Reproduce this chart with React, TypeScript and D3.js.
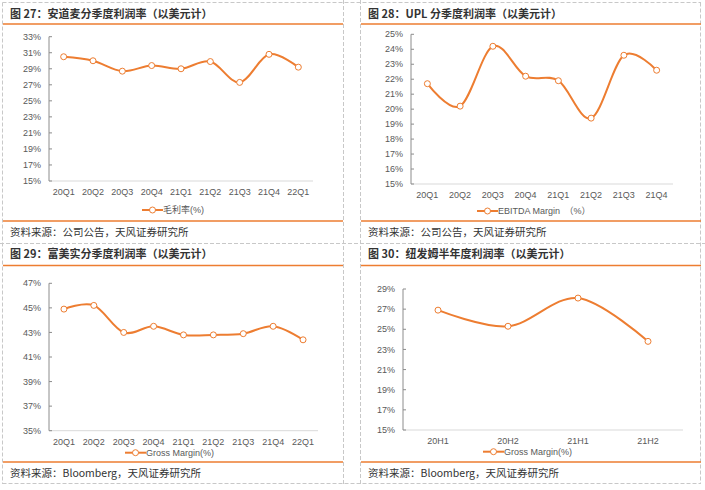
import React from 'react';
import * as d3 from 'd3';

const cats1 = ['20Q1', '20Q2', '20Q3', '20Q4', '21Q1', '21Q2', '21Q3', '21Q4', '22Q1'];
const vals1 = [30.5, 30.0, 28.7, 29.4, 29.0, 29.9, 27.3, 30.8, 29.2];
const ticks1 = [15, 17, 19, 21, 23, 25, 27, 29, 31, 33];

const cats2 = ['20Q1', '20Q2', '20Q3', '20Q4', '21Q1', '21Q2', '21Q3', '21Q4'];
const vals2 = [21.7, 20.2, 24.2, 22.2, 21.9, 19.4, 23.6, 22.6];
const ticks2 = [15, 16, 17, 18, 19, 20, 21, 22, 23, 24, 25];

const cats3 = ['20Q1', '20Q2', '20Q3', '20Q4', '21Q1', '21Q2', '21Q3', '21Q4', '22Q1'];
const vals3 = [44.9, 45.2, 43.0, 43.5, 42.8, 42.8, 42.9, 43.5, 42.4];
const ticks3 = [35, 37, 39, 41, 43, 45, 47];

const cats4 = ['20H1', '20H2', '21H1', '21H2'];
const vals4 = [26.9, 25.3, 28.1, 23.8];
const ticks4 = [15, 17, 19, 21, 23, 25, 27, 29];

const ORANGE = '#ED7D31';
const FONT = '"Liberation Sans", Arial, "Noto Sans CJK SC", sans-serif';
const CJK = '"Noto Sans CJK SC", "Liberation Sans", sans-serif';

type ChartProps = {
  cats: string[];
  vals: number[];
  ticks: number[];
  left: number; right: number; top: number; bottom: number;
  legend: string; legendX: number; legendY: number;
};

function Chart(p: ChartProps) {
  const x = d3.scaleBand<string>().domain(p.cats).range([p.left, p.right]);
  const y = d3.scaleLinear().domain([p.ticks[0], p.ticks[p.ticks.length - 1]]).range([p.bottom, p.top]);
  const pts: [number, number][] = p.cats.map((c, i) => [x(c)! + x.bandwidth() / 2, y(p.vals[i])]);
  const line = d3.line().curve(d3.curveCardinal.tension(0))(pts) || '';
  return (
    <g>
      <line x1={p.left} x2={p.right} y1={p.bottom} y2={p.bottom} stroke="#d9d9d9" strokeWidth={1} />
      <line x1={p.left} x2={p.left} y1={p.top} y2={p.bottom} stroke="#8c8c8c" strokeWidth={1} />
      {p.ticks.map(t => (
        <g key={t}>
          <line x1={p.left} x2={p.left + 3} y1={y(t)} y2={y(t)} stroke="#8c8c8c" />
          <text x={p.left - 8} y={y(t)} dy="0.35em" textAnchor="end" fontSize={9} fill="#595959" fontFamily={FONT}>{t}%</text>
        </g>
      ))}
      {p.cats.map(c => (
        <text key={c} x={x(c)! + x.bandwidth() / 2} y={p.bottom + 11} dy="0.35em" textAnchor="middle" fontSize={9} fill="#595959" fontFamily={FONT}>{c}</text>
      ))}
      <path d={line} fill="none" stroke={ORANGE} strokeWidth={2} />
      {pts.map((pt, i) => (
        <circle key={i} cx={pt[0]} cy={pt[1]} r={3} fill="#fff" stroke={ORANGE} strokeWidth={1} />
      ))}
      <g>
        <line x1={p.legendX} x2={p.legendX + 21} y1={p.legendY} y2={p.legendY} stroke={ORANGE} strokeWidth={2} />
        <circle cx={p.legendX + 10.5} cy={p.legendY} r={3} fill="#fff" stroke={ORANGE} strokeWidth={1} />
        <text x={p.legendX + 21} y={p.legendY} dy="0.35em" fontSize={9} fill="#595959" fontFamily={FONT}>{p.legend}</text>
      </g>
    </g>
  );
}

function Frame(props: { x1: number; x2: number; titleY: number; ruleTop: number; ruleBottom: number; sourceY: number; title: string; source: string }) {
  const { x1, x2 } = props;
  return (
    <g>
      <text x={x1 + 7} y={props.titleY} fontSize={11} fontWeight="bold" fill="#333" fontFamily={CJK}>{props.title}</text>
      <line x1={x1} x2={x2} y1={props.ruleTop} y2={props.ruleTop} stroke={ORANGE} strokeWidth={1.3} />
      <line x1={x1} x2={x2} y1={props.ruleBottom} y2={props.ruleBottom} stroke={ORANGE} strokeWidth={1.3} />
      <text x={x1 + 7} y={props.sourceY} fontSize={10.5} fill="#333" fontFamily={CJK}>{props.source}</text>
    </g>
  );
}

export default function App() {
  const dash = { stroke: '#c8c8c8', strokeWidth: 1, strokeDasharray: '4 2' };
  return (
    <svg width={705} height={490} style={{ position: 'absolute', left: 0, top: 0, background: '#fff' }}>
      <rect x={0} y={0} width={705} height={490} fill="#fff" />
      {/* dashed table grid */}
      <line x1={2.5} x2={701} y1={2.5} y2={2.5} {...dash} />
      <line x1={0} x2={705} y1={243.5} y2={243.5} {...dash} />
      <line x1={2.5} x2={701} y1={483.5} y2={483.5} {...dash} />
      <line x1={2.5} x2={2.5} y1={2.5} y2={484} {...dash} />
      <line x1={343.5} x2={343.5} y1={0} y2={484} {...dash} />
      <line x1={360.5} x2={360.5} y1={0} y2={484} {...dash} />
      <line x1={700.5} x2={700.5} y1={2.5} y2={484} {...dash} />

      <Frame x1={3} x2={343} titleY={18} ruleTop={24} ruleBottom={221} sourceY={236} title="图 27：安道麦分季度利润率（以美元计）" source="资料来源：公司公告，天风证券研究所" />
      <Frame x1={361} x2={701} titleY={18} ruleTop={24} ruleBottom={221} sourceY={236} title="图 28：UPL 分季度利润率（以美元计）" source="资料来源：公司公告，天风证券研究所" />
      <Frame x1={3} x2={343} titleY={258} ruleTop={265.5} ruleBottom={462} sourceY={476.5} title="图 29：富美实分季度利润率（以美元计）" source="资料来源：Bloomberg，天风证券研究所" />
      <Frame x1={361} x2={701} titleY={258} ruleTop={265.5} ruleBottom={462} sourceY={476.5} title="图 30：纽发姆半年度利润率（以美元计）" source="资料来源：Bloomberg，天风证券研究所" />

      <Chart cats={cats1} vals={vals1} ticks={ticks1} left={49} right={313} top={36.7} bottom={181} legend="毛利率(%)" legendX={142} legendY={210} />
      <Chart cats={cats2} vals={vals2} ticks={ticks2} left={411} right={673} top={34.3} bottom={184} legend="EBITDA Margin　（%）" legendX={477} legendY={211} />
      <Chart cats={cats3} vals={vals3} ticks={ticks3} left={49} right={318} top={283.3} bottom={430.7} legend="Gross Margin(%)" legendX={125} legendY={452.7} />
      <Chart cats={cats4} vals={vals4} ticks={ticks4} left={403} right={683} top={289} bottom={430} legend="Gross Margin(%)" legendX={483} legendY={451.7} />
    </svg>
  );
}
